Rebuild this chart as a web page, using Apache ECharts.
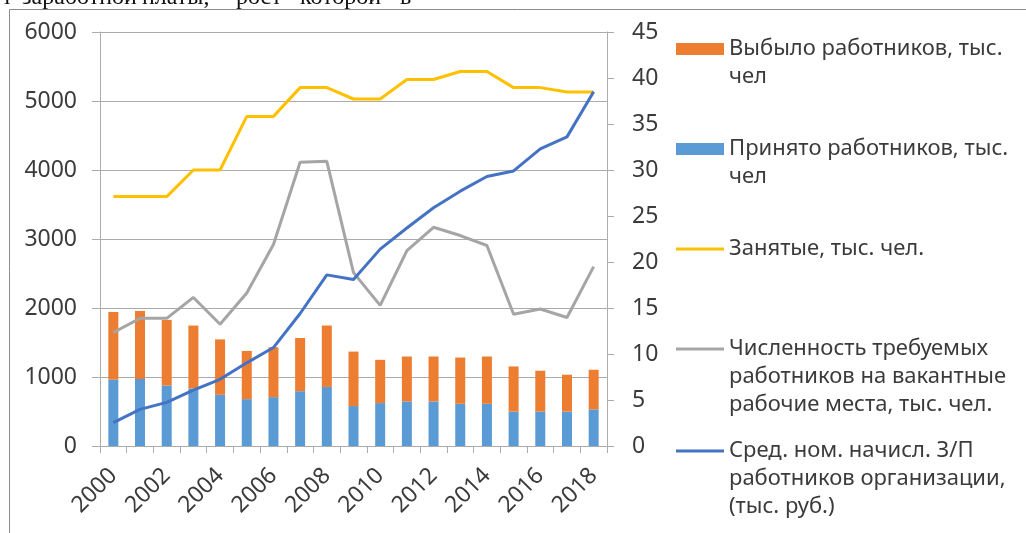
<!DOCTYPE html>
<html>
<head>
<meta charset="utf-8">
<script src="https://cdn.jsdelivr.net/npm/echarts@6/dist/echarts.min.js"></script>
<style>
  html, body { margin: 0; padding: 0; background: #fff; }
  #chart { width: 1026px; height: 533px; }
</style>
</head>
<body>
<div id="chart"></div>
<script>
// years on the x axis
const years = ['2000', '2001', '2002', '2003', '2004', '2005', '2006', '2007', '2008', '2009',
  '2010', '2011', '2012', '2013', '2014', '2015', '2016', '2017', '2018']

// bars, left axis (тыс. чел)
const hired = [962, 971, 876, 833, 742, 679, 708, 794, 856, 579, 622, 646, 646, 612, 612, 498, 498, 498, 531]
const left = [981, 986, 952, 913, 803, 699, 723, 771, 890, 789, 627, 651, 651, 670, 685, 655, 593, 535, 574]

// lines, left axis
const employed = [3615, 3615, 3615, 4000, 4000, 4777, 4777, 5194, 5194, 5029, 5029, 5311, 5311, 5427, 5427, 5194, 5194, 5131, 5131]
const vacancies = [1645, 1850, 1850, 2153, 1765, 2216, 2921, 4112, 4126, 2513, 2038, 2830, 3170, 3050, 2906, 1910, 1985, 1862, 2600]

// line, right axis (тыс. руб.)
const wage = [2.55, 3.98, 4.74, 6.07, 7.25, 9.04, 10.7, 14.4, 18.6, 18.1, 21.4, 23.7, 25.9, 27.7, 29.3, 29.9, 32.3, 33.6, 38.5]

// cut-off line of text above the figure
const topWords = ['т', 'заработной', 'платы,', 'рост', 'которой', 'в']
const topWordX = [2, 22, 142, 236, 300, 400]

const names = {
  left: 'Выбыло работников, тыс. чел',
  hired: 'Принято работников, тыс. чел',
  employed: 'Занятые, тыс. чел.',
  vacancies: 'Численность требуемых работников на вакантные рабочие места, тыс. чел.',
  wage: 'Сред. ном. начисл. З/П работников организации, (тыс. руб.)'
}
const legendLines = {
  [names.left]: ['Выбыло работников, тыс.', 'чел'],
  [names.hired]: ['Принято работников, тыс.', 'чел'],
  [names.employed]: ['Занятые, тыс. чел.'],
  [names.vacancies]: ['Численность требуемых', 'работников на вакантные', 'рабочие места, тыс. чел.'],
  [names.wage]: ['Сред. ном. начисл. З/П', 'работников организации,', '(тыс. руб.)']
}

const FONT = 'Noto Sans'
const TEXT = '#3b3b3b'
const GRID = '#ababab'
const LH = 28

// legend text is centred on the icon, so pad with empty lines on top
// to bring the first line level with the icon
const legendLabel = (n) => {
  const lines = legendLines[n]
  return '\n'.repeat(lines.length - 1) + lines.join('\n')
}

const makeLegend = (name, top, color, isBar) => ({
  data: [{ name: name, icon: 'rect', itemStyle: { color: color } }],
  orient: 'vertical',
  left: 676,
  top: top,
  padding: 0,
  itemWidth: 48,
  itemHeight: isBar ? 12 : 3,
  selectedMode: false,
  formatter: legendLabel,
  textStyle: {
    fontFamily: FONT,
    fontSize: 22,
    color: TEXT,
    lineHeight: LH
  }
})

const chart = echarts.init(document.getElementById('chart'))

chart.setOption({
  animation: false,
  backgroundColor: '#fff',
  textStyle: { fontFamily: FONT },
  grid: { left: 100, right: 419, top: 32, bottom: 87 },
  legend: [
    makeLegend(names.left, 7, '#ED7D31', true),
    makeLegend(names.hired, 107, '#5B9BD5', true),
    makeLegend(names.employed, 235, '#FFC000', false),
    makeLegend(names.vacancies, 279, '#A5A5A5', false),
    makeLegend(names.wage, 381, '#4472C4', false)
  ],
  graphic: [
    {
      type: 'polyline',
      shape: { points: [[9.5, 533], [9.5, 9.5], [1026, 9.5]] },
      style: { stroke: '#8c8c8c', lineWidth: 1, fill: null },
      silent: true
    },
    ...topWords.map((w, i) => ({
      type: 'text',
      x: topWordX[i],
      y: -2,
      silent: true,
      style: {
        text: w,
        font: '24px "Liberation Serif"',
        fill: '#111',
        verticalAlign: 'middle'
      }
    }))
  ],
  xAxis: {
    type: 'category',
    data: years,
    boundaryGap: true,
    axisLine: { lineStyle: { color: GRID, width: 1 } },
    axisTick: { show: true, length: 7, interval: 0, lineStyle: { color: GRID } },
    axisLabel: {
      interval: 1,
      rotate: 45,
      margin: 26,
      color: TEXT,
      fontFamily: FONT,
      fontSize: 23
    }
  },
  yAxis: [
    {
      type: 'value',
      min: 0,
      max: 6000,
      interval: 1000,
      axisLine: { show: true, lineStyle: { color: GRID } },
      axisTick: { show: true, length: 8, lineStyle: { color: GRID } },
      splitLine: { lineStyle: { color: GRID, width: 1 } },
      axisLabel: {
        margin: 23,
        color: TEXT,
        fontFamily: FONT,
        fontSize: 23,
        formatter: (v) => String(v)
      }
    },
    {
      type: 'value',
      min: 0,
      max: 45,
      interval: 5,
      position: 'right',
      axisLine: { show: true, lineStyle: { color: GRID } },
      axisTick: { show: true, length: 7, lineStyle: { color: GRID } },
      splitLine: { show: false },
      axisLabel: { margin: 25, color: TEXT, fontFamily: FONT, fontSize: 23 }
    }
  ],
  series: [
    {
      name: names.hired,
      type: 'bar',
      stack: 'flow',
      barWidth: 10,
      data: hired,
      itemStyle: { color: '#5B9BD5' }
    },
    {
      name: names.left,
      type: 'bar',
      stack: 'flow',
      barWidth: 10,
      data: left,
      itemStyle: { color: '#ED7D31' }
    },
    {
      name: names.employed,
      type: 'line',
      symbol: 'none',
      data: employed,
      lineStyle: { color: '#FFC000', width: 3 },
      itemStyle: { color: '#FFC000' }
    },
    {
      name: names.vacancies,
      type: 'line',
      symbol: 'none',
      data: vacancies,
      lineStyle: { color: '#A5A5A5', width: 3 },
      itemStyle: { color: '#A5A5A5' }
    },
    {
      name: names.wage,
      type: 'line',
      yAxisIndex: 1,
      symbol: 'none',
      data: wage,
      lineStyle: { color: '#4472C4', width: 3 },
      itemStyle: { color: '#4472C4' }
    }
  ]
})
</script>
</body>
</html>
